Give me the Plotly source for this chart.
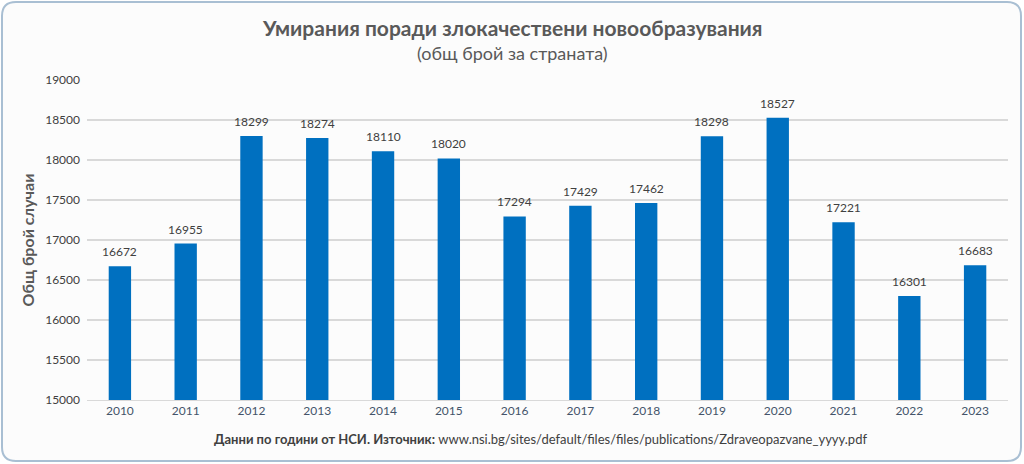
import plotly.graph_objects as go

years = ["2010", "2011", "2012", "2013", "2014", "2015", "2016", "2017", "2018", "2019", "2020", "2021", "2022", "2023"]
deaths = [16672, 16955, 18299, 18274, 18110, 18020, 17294, 17429, 17462, 18298, 18527, 17221, 16301, 16683]
y_ticks = [15000, 15500, 16000, 16500, 17000, 17500, 18000, 18500, 19000]

title_text = "Умирания поради злокачествени новообразувания"
subtitle_text = "(общ брой за страната)"
y_title = "Общ брой случаи"
footnote = "<b>Данни по години от НСИ. Източник:</b> www.nsi.bg/sites/default/files/files/publications/Zdraveopazvane_yyyy.pdf"

FONT = "Lato, 'Open Sans', sans-serif"
W, H = 1024, 464
L, R, T, B = 87, 16, 80, 64
pw, ph = W - L - R, H - T - B

def px(x):
    return (x - L) / pw

def py(y):
    return (H - B - y) / ph

fig = go.Figure()
fig.add_trace(go.Bar(
    x=years, y=deaths,
    marker=dict(color="#0070c0", line=dict(width=0)),
    cliponaxis=False,
))

# rounded border
x0, x1, y0, y1, r = 2, 1021, 2, 461, 14
path = (
    f"M {px(x0 + r)},{py(y0)} L {px(x1 - r)},{py(y0)} Q {px(x1)},{py(y0)} {px(x1)},{py(y0 + r)} "
    f"L {px(x1)},{py(y1 - r)} Q {px(x1)},{py(y1)} {px(x1 - r)},{py(y1)} "
    f"L {px(x0 + r)},{py(y1)} Q {px(x0)},{py(y1)} {px(x0)},{py(y1 - r)} "
    f"L {px(x0)},{py(y0 + r)} Q {px(x0)},{py(y0)} {px(x0 + r)},{py(y0)} Z"
)

# value labels: x is the category index on the category axis
value_labels = [
    dict(text=str(v), x=i, y=v, xref="x", yref="y", showarrow=False,
         yanchor="bottom", yshift=5, font=dict(family=FONT, size=12, color="#404040"))
    for i, v in enumerate(deaths)
]

fig.update_layout(
    width=W, height=H,
    margin=dict(l=L, r=R, t=T, b=B),
    paper_bgcolor="#ffffff",
    plot_bgcolor="#fcfcfc",
    bargap=0.66,
    showlegend=False,
    font=dict(family=FONT, color="#404040"),
    shapes=[dict(type="path", path=path, xref="paper", yref="paper",
                 line=dict(color="#a9bfd3", width=2), fillcolor="#fcfcfc", layer="below")],
    xaxis=dict(
        type="category", range=[-0.5, len(years) - 0.5],
        showgrid=False, showline=True, linecolor="#d9d9d9", linewidth=1,
        ticks="", tickfont=dict(family=FONT, size=12, color="#44546a"),
    ),
    yaxis=dict(
        range=[15000, 19000], tickvals=y_ticks, ticktext=[str(v) for v in y_ticks],
        showgrid=True, gridcolor="#d9d9d9", gridwidth=1.5,
        zeroline=False, ticks="", ticklabelstandoff=6,
        tickfont=dict(family=FONT, size=12, color="#404040"),
        title=dict(text=f"<b>{y_title}</b>", font=dict(family=FONT, size=16, color="#595959"), standoff=6),
    ),
    annotations=value_labels + [
        dict(text=f"<b>{title_text}</b>", xref="paper", yref="paper", x=px(512), y=py(27),
             showarrow=False, font=dict(family=FONT, size=21, color="#595959"), xanchor="center", yanchor="middle"),
        dict(text=subtitle_text, xref="paper", yref="paper", x=px(512), y=py(53),
             showarrow=False, font=dict(family=FONT, size=18, color="#595959"), xanchor="center", yanchor="middle"),
        dict(text=footnote, xref="paper", yref="paper", x=px(540), y=py(439),
             showarrow=False, font=dict(family=FONT, size=13, color="#404040"), xanchor="center", yanchor="middle"),
    ],
)

fig.write_html("out.html")
